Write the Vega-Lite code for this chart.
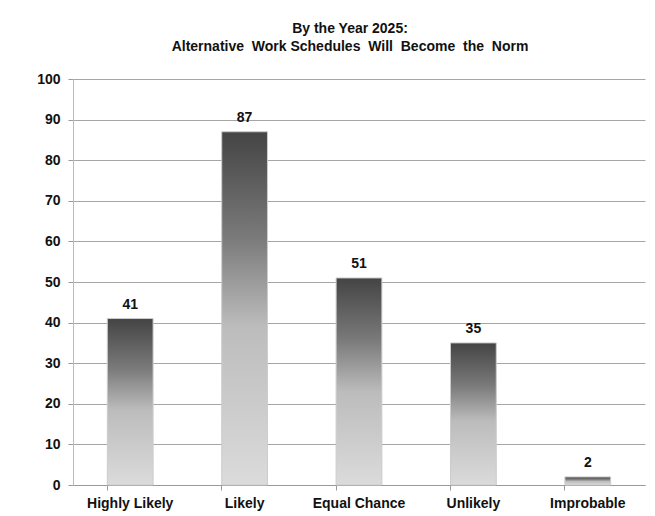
{
  "$schema": "https://vega.github.io/schema/vega-lite/v6.json",
  "width": 572,
  "height": 406,
  "autosize": "none",
  "padding": {"left": 73, "top": 79, "right": 10, "bottom": 31},
  "background": "white",
  "title": {
    "text": ["By the Year 2025:", "Alternative\u00a0 Work Schedules\u00a0 Will\u00a0 Become\u00a0 the\u00a0 Norm"],
    "font": "Liberation Sans",
    "fontSize": 14,
    "fontWeight": "bold",
    "lineHeight": 18,
    "color": "#111111",
    "anchor": "middle",
    "dx": -9,
    "offset": 18
  },
  "data": {
    "values": [
      {"category": "Highly Likely", "value": 41},
      {"category": "Likely", "value": 87},
      {"category": "Equal Chance", "value": 51},
      {"category": "Unlikely", "value": 35},
      {"category": "Improbable", "value": 2}
    ]
  },
  "encoding": {
    "x": {
      "field": "category",
      "type": "nominal",
      "sort": null,
      "scale": {"paddingInner": 0.6, "paddingOuter": 0.3},
      "axis": {
        "title": null,
        "labelAngle": 0,
        "labelFont": "Liberation Sans",
        "labelFontSize": 14,
        "labelFontWeight": "bold",
        "labelColor": "#111111",
        "labelPadding": 6,
        "bandPosition": 0,
        "tickSize": 5,
        "tickColor": "#999999",
        "domainColor": "#999999",
        "grid": false
      }
    },
    "y": {
      "field": "value",
      "type": "quantitative",
      "scale": {"domain": [0, 100]},
      "axis": {
        "title": null,
        "values": [0, 10, 20, 30, 40, 50, 60, 70, 80, 90, 100],
        "labelFont": "Liberation Sans",
        "labelFontSize": 14,
        "labelFontWeight": "bold",
        "labelColor": "#111111",
        "labelPadding": 8,
        "tickSize": 5,
        "tickColor": "#999999",
        "domainColor": "#bbbbbb",
        "gridColor": "#a6a6a6",
        "gridWidth": 1
      }
    }
  },
  "layer": [
    {
      "mark": {
        "type": "bar",
        "stroke": "#cccccc",
        "strokeWidth": 1,
        "color": {
          "gradient": "linear",
          "x1": 0, "y1": 0, "x2": 0, "y2": 1,
          "stops": [
            {"offset": 0, "color": "#444444"},
            {"offset": 0.3, "color": "#7a7a7a"},
            {"offset": 0.55, "color": "#bcbcbc"},
            {"offset": 1, "color": "#dbdbdb"}
          ]
        }
      }
    },
    {
      "mark": {
        "type": "text",
        "dy": -14,
        "font": "Liberation Sans",
        "fontSize": 14,
        "fontWeight": "bold",
        "color": "#111111"
      },
      "encoding": {"text": {"field": "value", "type": "quantitative"}}
    }
  ],
  "config": {"view": {"stroke": null}}
}
